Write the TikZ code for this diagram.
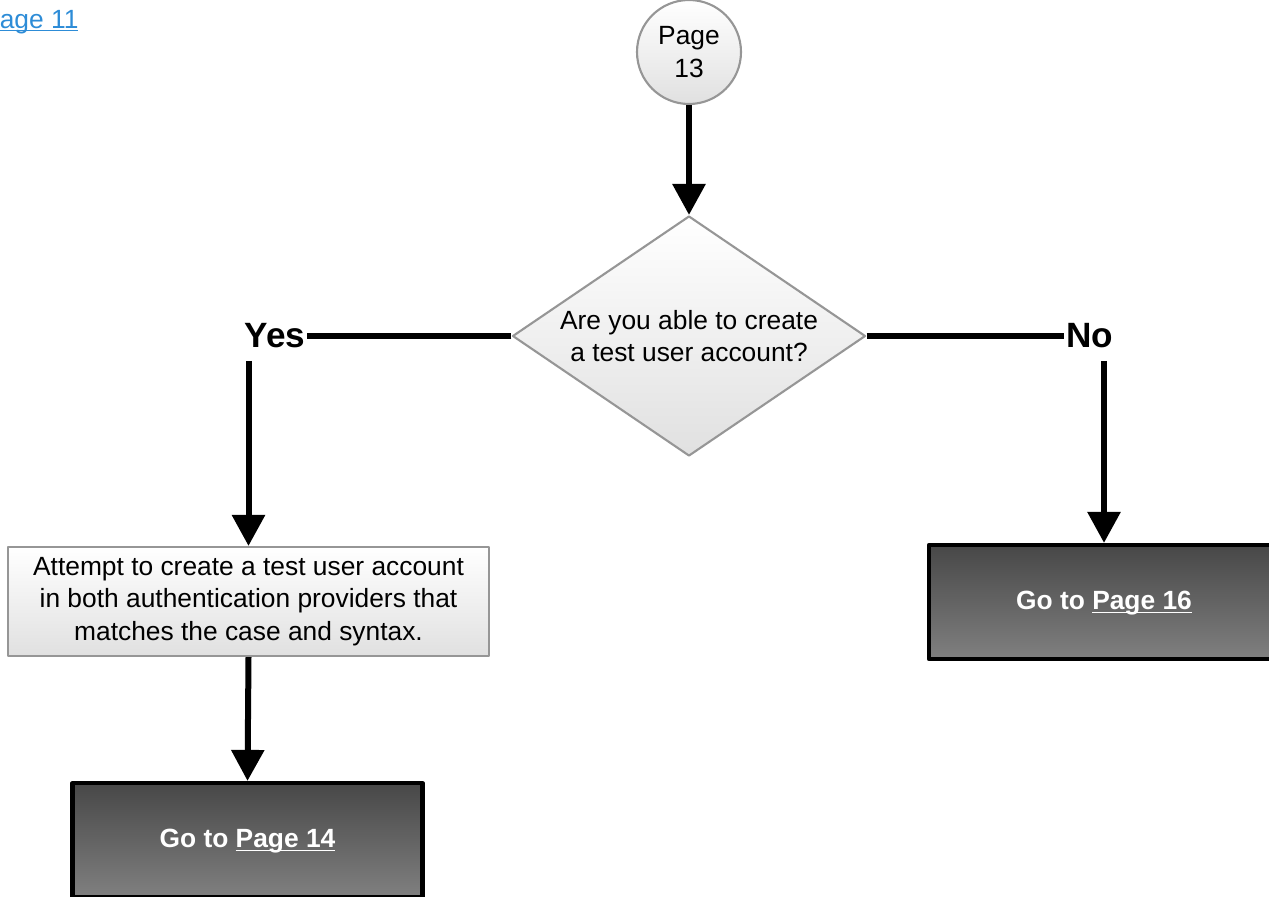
\documentclass[tikz,border=0pt]{standalone}
\usepackage{fontspec}
\setmainfont{Liberation Sans}
\usetikzlibrary{shapes.geometric,arrows.meta}
\definecolor{linkblue}{RGB}{45,140,215}
\definecolor{edgegray}{RGB}{150,150,150}
\newcommand{\pagelink}[1]{\underline{\smash{#1}}}
\begin{document}
\begin{tikzpicture}[font=\fontsize{15}{18.3}\selectfont,line join=round,
	flow/.style={line width=0.12cm},
	arr/.style={flow,-{Triangle[length=0.62cm,width=0.64cm]}},
	light/.style={draw=edgegray,line width=1.2pt,top color=white,bottom color=black!12},
	dark/.style={draw=black,line width=2.4pt,top color=black!72,bottom color=black!50,text=white,font=\fontsize{15}{18}\selectfont\bfseries,minimum width=7cm,minimum height=2.28cm},
	answer/.style={font=\fontsize{20}{22}\selectfont\bfseries,inner sep=1pt}]
	\useasboundingbox (0,0) rectangle (25.38,-17.92);
	\clip (0,0) rectangle (25.38,-17.92);
	%\draw[help lines] (0,0) grid (25,-18);
	\node[anchor=base west,text=linkblue] (prev) at (-0.48,-0.56) {\pagelink{Page 11}};
	\node[light,circle,minimum size=2.08cm,inner sep=0pt,align=center] (page13) at (13.78,-1.04) {Page\\13};
	\node[light,diamond,aspect=1.47,minimum width=7.06cm,minimum height=4.8cm,inner sep=0pt,align=center] (question) at (13.78,-6.72) {Are you able to create\\a test user account?};
	\node[answer] (yes) at (5.5,-6.72) {Yes};
	\node[answer] (no) at (21.8,-6.72) {No};
	\node[light,rectangle,minimum width=9.62cm,minimum height=2.18cm,align=center] (attempt) at (4.97,-12.03) {Attempt to create a test user account\\in both authentication providers that\\matches the case and syntax.};
	\node[dark] (go14) at (4.95,-16.8) {Go to \pagelink{Page 14}};
	\node[dark] (go16) at (22.08,-12.04) {Go to \pagelink{Page 16}};
	\draw[arr] (page13) -- (question);
	\draw[flow] (question.west) -- (yes.east);
	\draw[flow] (question.east) -- (no.west);
	\draw[arr,shorten <=6pt] (yes.south -| attempt.north) -- (attempt.north);
	\draw[arr,shorten <=6pt] (no.south -| go16.north) -- (go16.north);
	\draw[arr] (attempt.south) -- (go14.north);
\end{tikzpicture}
\end{document}
